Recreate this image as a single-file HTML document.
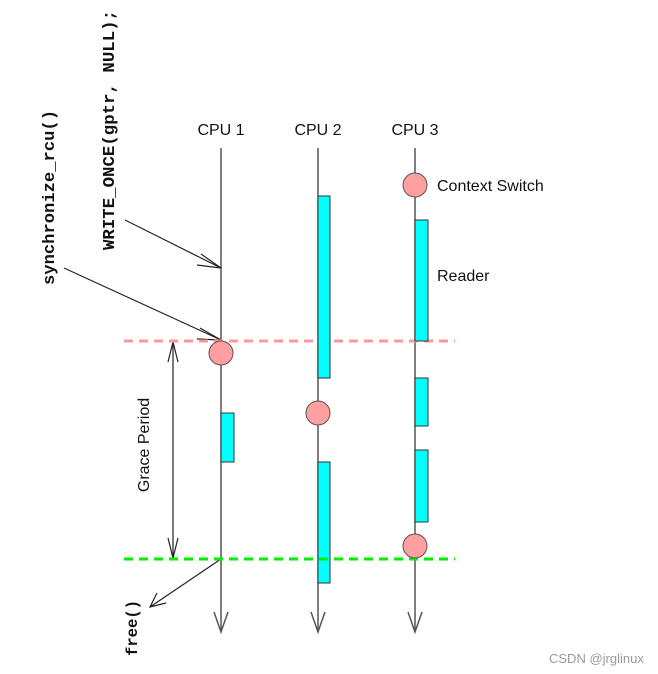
<!DOCTYPE html>
<html><head><meta charset="utf-8"><style>
html,body{margin:0;padding:0;background:#fff;width:658px;height:674px;overflow:hidden}
</style></head><body>
<svg width="658" height="674" xmlns="http://www.w3.org/2000/svg">
<g font-family="Liberation Sans, sans-serif" font-size="16" fill="#111">
<text x="221" y="135" text-anchor="middle">CPU 1</text>
<text x="318" y="135" text-anchor="middle">CPU 2</text>
<text x="415" y="135" text-anchor="middle">CPU 3</text>
<text x="437" y="191">Context Switch</text>
<text x="437" y="281">Reader</text>
<text transform="translate(149,445) rotate(-90)" text-anchor="middle">Grace Period</text>
</g>
<g font-family="Liberation Mono, monospace" font-weight="bold" font-size="17" fill="#111">
<text transform="translate(114,250) rotate(-90)" textLength="240" lengthAdjust="spacingAndGlyphs">WRITE_ONCE(gptr, NULL);</text>
<text transform="translate(54,285) rotate(-90)" textLength="175" lengthAdjust="spacingAndGlyphs">synchronize_rcu()</text>
<text transform="translate(137,656) rotate(-90)" font-size="16" textLength="56" lengthAdjust="spacingAndGlyphs">free()</text>
</g>
<g stroke="#555" stroke-width="1.5" fill="none">
<line x1="221" y1="148" x2="221" y2="632"/>
<line x1="318" y1="148" x2="318" y2="632"/>
<line x1="415" y1="148" x2="415" y2="632"/>
<polyline points="214,612 221,632 228,612"/>
<polyline points="311,612 318,632 325,612"/>
<polyline points="408,612 415,632 422,612"/>
</g>
<g stroke="#222" stroke-width="1.2" fill="none">
<line x1="125" y1="220" x2="221" y2="268"/>
<polyline points="201,254 221,268 197,265"/>
<line x1="64" y1="268" x2="221" y2="340"/>
<polyline points="200,328 221,340 197,339"/>
<line x1="221" y1="559" x2="150" y2="607"/>
<polyline points="157,593 150,607 166,603"/>
<line x1="173" y1="342" x2="173" y2="558"/>
<polyline points="168,362 173,342 178,362"/>
<polyline points="168,538 173,558 178,538"/>
</g>
<line x1="124" y1="341" x2="455" y2="341" stroke="#ff9999" stroke-width="3" stroke-dasharray="9,6"/>
<g fill="#00ffff" stroke="#333" stroke-width="1">
<rect x="318" y="196" width="12" height="182"/>
<rect x="318" y="462" width="12" height="121"/>
<rect x="221" y="413" width="13" height="49"/>
<rect x="415" y="220" width="13" height="121"/>
<rect x="415" y="378" width="13" height="48"/>
<rect x="415" y="450" width="13" height="72"/>
</g>
<line x1="124" y1="559" x2="455" y2="559" stroke="#00ee00" stroke-width="3" stroke-dasharray="9,6"/>
<g fill="#ff9f9f" stroke="#555" stroke-width="1">
<circle cx="415" cy="185" r="12"/>
<circle cx="221" cy="353" r="12"/>
<circle cx="318" cy="413" r="12"/>
<circle cx="415" cy="546" r="12"/>
</g>
<text x="549" y="663" font-family="Liberation Sans, sans-serif" font-size="13" fill="#999">CSDN @jrglinux</text>
</svg>
</body></html>
